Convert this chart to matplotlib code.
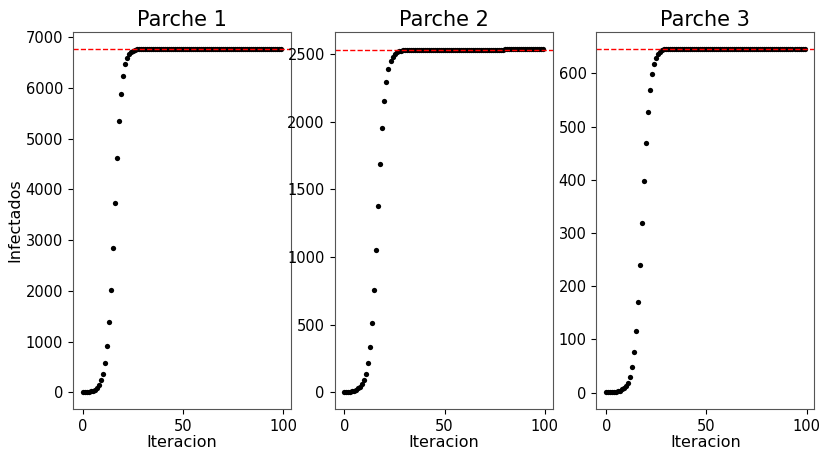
import numpy as np
import matplotlib
matplotlib.use("Agg")
import matplotlib.pyplot as plt


# infectados por iteracion en cada parche
infectados_1 = [3, 5, 9, 14, 22, 35, 55, 90, 145, 236, 354, 579, 906, 1378,
                2022, 2843, 3740, 4614, 5348, 5886, 6228, 6465, 6583, 6661,
                6705, 6735, 6752, 6761, 6766] + [6768] * 71
infectados_2 = [1, 2, 3, 5, 8, 12, 19, 29, 40, 58, 88, 137, 216, 338, 515,
                753, 1051, 1375, 1687, 1954, 2154, 2294, 2387, 2444, 2478,
                2500, 2512, 2520, 2524] + [2527] * 51 + [2537] * 20
infectados_3 = [2, 1, 1, 1, 1, 2, 3, 4, 6, 8, 12, 19, 30, 49, 77, 116, 171,
                240, 319, 398, 469, 527, 569, 598, 617, 629, 636, 641, 643,
                645] + [646] * 70

# valor de equilibrio de cada parche
equilibrio = [6768, 2526, 646]
titulos = ["Parche 1", "Parche 2", "Parche 3"]


def plot_parches(series, out_path):
    fig, axes = plt.subplots(1, 3, figsize=(8.21, 4.5), dpi=100)
    fig.subplots_adjust(left=0.0886, right=0.992, bottom=0.0904,
                        top=0.9296, wspace=0.2)
    for ax, serie, eq, titulo in zip(axes, series, equilibrio, titulos):
        it = np.arange(len(serie))
        ax.plot(it, serie, "o", color="black", markersize=3.8,
                markeredgewidth=0)
        ax.axhline(eq, color="red", linestyle="--", linewidth=1)
        ax.set_title(titulo, fontsize=15, pad=4)
        ax.set_xlabel("Iteracion", fontsize=11.5, labelpad=1)
        ax.tick_params(labelsize=10.5)
        for sp in ax.spines.values():
            sp.set_color("#555555")
    axes[0].set_ylabel("Infectados", fontsize=11.5, labelpad=2)
    fig.savefig(out_path, dpi=100)


plot_parches([infectados_1, infectados_2, infectados_3], "out.png")
